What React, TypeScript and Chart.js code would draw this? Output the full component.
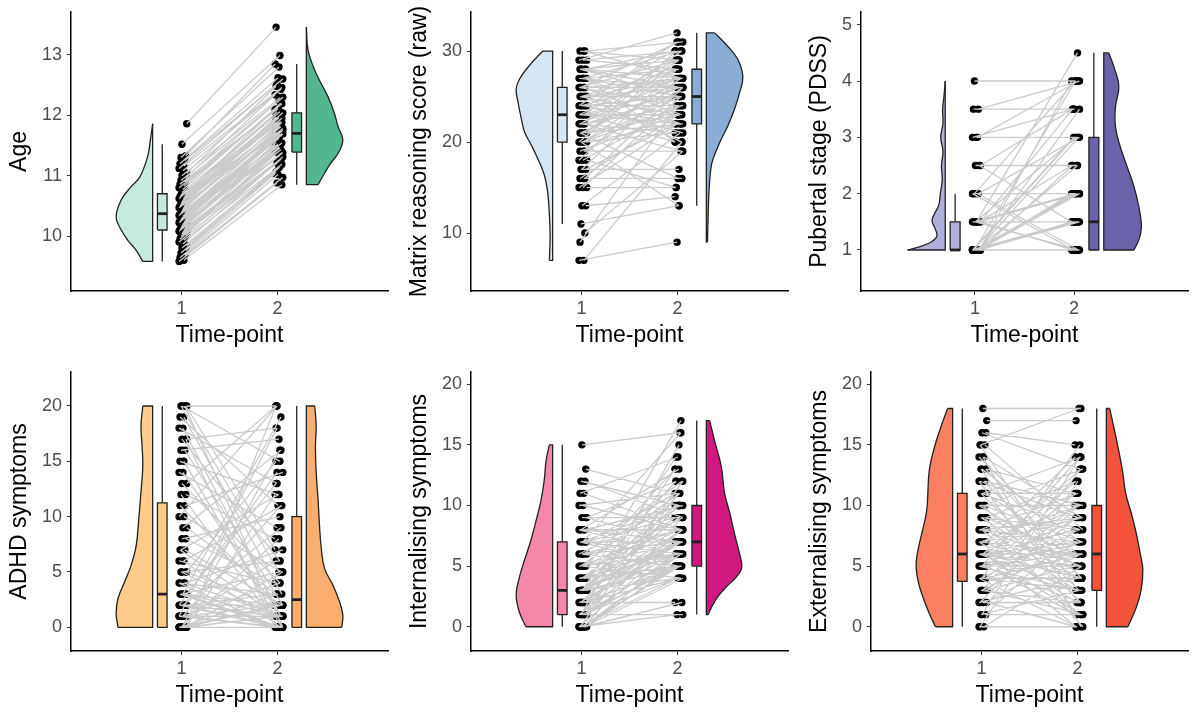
import React, { useEffect, useRef } from "react";
import { Chart, registerables } from "chart.js";

Chart.register(...registerables);

const FONT = '"Liberation Sans", Arial, Helvetica, sans-serif';
Chart.defaults.font.family = FONT;

// ---------- shared ----------
const TIME_POINTS = [1, 2];
const X_TITLE = "Time-point";

// ---------- Panel 1: Age ----------
const AGE_T1 = [9.58, 9.6, 9.64, 9.68, 9.72, 9.76, 9.8, 9.84, 9.87, 9.9, 9.93, 9.95, 9.98, 10.0, 10.02, 10.04, 10.06, 10.07, 10.08, 10.1, 10.11, 10.13, 10.14, 10.16, 10.17, 10.19, 10.2, 10.22, 10.23, 10.25, 10.26, 10.28, 10.29, 10.3, 10.32, 10.33, 10.34, 10.35, 10.36, 10.38, 10.39, 10.41, 10.42, 10.44, 10.45, 10.47, 10.49, 10.5, 10.52, 10.54, 10.56, 10.57, 10.59, 10.61, 10.62, 10.64, 10.65, 10.67, 10.68, 10.7, 10.72, 10.74, 10.77, 10.8, 10.83, 10.86, 10.89, 10.92, 10.96, 11.0, 11.04, 11.08, 11.12, 11.16, 11.2, 11.25, 11.3, 11.33, 11.52, 11.86];
const AGE_T2 = [10.88, 10.85, 11.02, 10.97, 11.13, 11.03, 11.15, 11.06, 11.27, 11.21, 11.19, 11.39, 11.31, 11.24, 11.39, 11.34, 11.48, 11.28, 11.43, 11.38, 11.5, 11.38, 11.47, 11.62, 11.46, 11.55, 11.43, 11.62, 11.54, 11.52, 11.69, 11.62, 11.51, 11.68, 11.62, 11.74, 11.6, 11.7, 11.65, 11.75, 11.63, 11.73, 11.87, 11.72, 11.81, 11.68, 11.88, 11.8, 11.78, 11.96, 11.89, 11.82, 11.97, 11.9, 12.06, 11.95, 11.88, 12.04, 11.96, 12.1, 12.06, 12.01, 12.2, 12.1, 12.19, 12.11, 12.3, 12.24, 12.34, 12.29, 12.48, 12.43, 12.52, 12.46, 12.62, 12.6, 12.8, 12.85, 12.99, 13.46];
const AGE_BOX_T1 = [9.58, 10.1, 10.37, 10.7, 11.52];
const AGE_BOX_T2 = [10.85, 11.39, 11.7, 12.04, 12.85];
const AGE_DENS_T1_Y = [9.58, 9.77, 9.93, 10.1, 10.32, 10.6, 10.81, 10.98, 11.31, 11.6, 11.86];
const AGE_DENS_T1_W = [0.27, 0.46, 0.68, 0.86, 1.0, 0.86, 0.6, 0.35, 0.14, 0.06, 0.0];
const AGE_DENS_T2_Y = [10.85, 11.04, 11.2, 11.37, 11.59, 11.81, 12.03, 12.3, 12.69, 13.07, 13.46];
const AGE_DENS_T2_W = [0.32, 0.5, 0.66, 0.87, 1.0, 0.87, 0.77, 0.6, 0.27, 0.05, 0.0];
const AGE_Y_TICKS = [10, 11, 12, 13];
const AGE_Y_RANGE = [9.09, 13.71];

// ---------- Panel 2: Matrix reasoning ----------
const MATRIX_T1 = [7, 7, 9, 10, 11, 13, 13, 15, 15, 15, 16, 16, 16, 17, 17, 17, 18, 18, 18, 19, 19, 19, 20, 20, 20, 20, 20, 20, 20, 21, 21, 21, 21, 21, 21, 22, 22, 22, 22, 22, 22, 23, 23, 23, 23, 23, 23, 23, 24, 24, 24, 24, 24, 24, 24, 25, 25, 25, 25, 25, 25, 25, 26, 26, 26, 26, 26, 26, 27, 27, 27, 27, 27, 27, 28, 28, 28, 28, 28, 29, 29, 29, 30, 30, 30];
const MATRIX_T2 = [9, 20, 24, 19, 13, 14, 21, 15, 25, 22, 16, 23, 26, 17, 22, 27, 15, 24, 28, 19, 23, 26, 13, 21, 25, 22, 27, 29, 24, 16, 22, 26, 28, 23, 30, 19, 21, 25, 27, 24, 29, 20, 22, 25, 26, 28, 30, 23, 21, 24, 25, 27, 29, 22, 31, 20, 23, 26, 28, 30, 25, 27, 22, 24, 26, 29, 27, 31, 20, 25, 28, 30, 26, 23, 25, 27, 29, 30, 26, 28, 30, 32, 27, 29, 31];
const MATRIX_BOX_T1 = [11, 20, 23, 26, 30];
const MATRIX_BOX_T2 = [13, 22, 25, 28, 32];
const MATRIX_DENS_T1_Y = [7, 9.5, 12, 14.6, 16.4, 18.2, 19.7, 21.1, 22.6, 24.4, 25.8, 26.9, 28.4, 30];
const MATRIX_DENS_T1_W = [0.09, 0.07, 0.09, 0.14, 0.23, 0.41, 0.59, 0.77, 0.86, 0.95, 1.0, 0.91, 0.64, 0.27];
const MATRIX_DENS_T2_Y = [9, 11.9, 14.4, 17, 18.1, 19.9, 21.8, 23.6, 25.4, 27.2, 29.1, 30.5, 32];
const MATRIX_DENS_T2_W = [0.03, 0.05, 0.07, 0.12, 0.18, 0.36, 0.59, 0.77, 0.91, 1.0, 0.86, 0.59, 0.23];
const MATRIX_Y_TICKS = [10, 20, 30];
const MATRIX_Y_RANGE = [3.63, 34.29];

// ---------- Panel 3: Pubertal stage ----------
const PDSS_T1 = [1, 1, 1, 1, 1, 1, 1, 1, 1, 1, 1, 1, 1, 1, 1, 1, 1, 1, 1, 1, 1, 1, 1, 1, 1, 1, 1, 1, 1, 1, 1, 1, 1, 1.5, 1.5, 1.5, 1.5, 1.5, 1.5, 1.5, 1.5, 1.5, 1.5, 1.5, 1.5, 2, 2, 2, 2, 2, 2.5, 2.5, 2.5, 3, 3, 3, 3.5, 3.5, 4];
const PDSS_T2 = [1, 1, 1, 1, 1, 1, 1, 1, 1, 1, 1, 1.5, 1.5, 1.5, 1.5, 1.5, 1.5, 1.5, 1.5, 1.5, 1.5, 2, 2, 2, 2, 2.5, 2.5, 3, 3, 3, 3.5, 4, 4, 1, 1, 1, 1.5, 1.5, 1.5, 2, 2, 2.5, 3, 3.5, 4.5, 1, 1, 2, 3, 4, 1.5, 2.5, 3.5, 3, 3.5, 4, 3.5, 4, 4];
const PDSS_BOX_T1 = [1, 1, 1, 1.5, 2];
const PDSS_BOX_T2 = [1, 1, 1.5, 3, 4.5];
const PDSS_DENS_T1_Y = [1.0, 1.06, 1.15, 1.25, 1.38, 1.52, 1.65, 1.8, 2.0, 2.25, 2.5, 2.75, 3.0, 3.25, 3.5, 3.75, 4.0];
const PDSS_DENS_T1_W = [1.0, 0.66, 0.35, 0.22, 0.27, 0.35, 0.28, 0.17, 0.13, 0.08, 0.1, 0.06, 0.12, 0.06, 0.07, 0.03, 0.0];
const PDSS_DENS_T2_Y = [1.0, 1.18, 1.41, 1.77, 2.13, 2.48, 2.83, 3.19, 3.54, 3.9, 4.25, 4.5];
const PDSS_DENS_T2_W = [0.8, 0.93, 1.0, 0.93, 0.8, 0.62, 0.44, 0.31, 0.31, 0.4, 0.27, 0.13];
const PDSS_Y_TICKS = [1, 2, 3, 4, 5];
const PDSS_Y_RANGE = [0.272, 5.225];

// ---------- Panel 4: ADHD ----------
const ADHD_T1 = [0, 0, 0, 0, 0, 0, 0, 0, 0, 0, 0, 0, 0, 0, 0, 0, 0, 1, 1, 1, 1, 1, 1, 1, 1, 1, 1, 1, 2, 2, 2, 2, 2, 2, 2, 2, 2, 3, 3, 3, 3, 3, 3, 3, 3, 4, 4, 4, 4, 5, 5, 5, 5, 6, 6, 6, 7, 7, 7, 8, 8, 9, 9, 10, 10, 11, 11, 12, 12, 13, 13, 14, 14, 15, 15, 16, 16, 17, 17, 17, 18, 18, 19, 19, 20, 20, 20, 20, 20];
const ADHD_T2 = [0, 0, 0, 0, 0, 2, 1, 1, 1, 2, 2, 3, 5, 8, 12, 16, 20, 0, 0, 0, 1, 1, 1, 2, 4, 6, 11, 18, 0, 0, 1, 1, 2, 2, 3, 9, 14, 0, 0, 1, 2, 2, 5, 13, 19, 0, 1, 3, 7, 1, 2, 6, 15, 0, 4, 11, 1, 2, 12, 4, 10, 3, 16, 20, 5, 2, 14, 0, 8, 4, 20, 1, 9, 0, 12, 2, 17, 0, 6, 18, 1, 13, 3, 11, 0, 5, 7, 15, 20];
const ADHD_BOX_T1 = [0, 0, 3, 11.25, 20];
const ADHD_BOX_T2 = [0, 0, 2.5, 10, 20];
const ADHD_DENS_T1_Y = [0, 0.4, 1.3, 2.6, 4.1, 5.6, 7.4, 9.8, 12.2, 14.6, 16.4, 18.2, 20];
const ADHD_DENS_T1_W = [0.95, 0.97, 1.0, 0.95, 0.77, 0.59, 0.45, 0.38, 0.32, 0.27, 0.29, 0.32, 0.27];
const ADHD_DENS_T2_Y = [0, 1.1, 2.3, 3.8, 5.3, 7.1, 9.2, 11.6, 14.0, 16.4, 18.2, 20];
const ADHD_DENS_T2_W = [0.97, 1.0, 0.91, 0.73, 0.5, 0.41, 0.36, 0.32, 0.27, 0.25, 0.27, 0.23];
const ADHD_Y_TICKS = [0, 5, 10, 15, 20];
const ADHD_Y_RANGE = [-2.14, 23.07];

// ---------- Panel 5: Internalising ----------
const INT_T1 = [0, 0, 0, 0, 0, 0, 0, 0, 0, 0, 0, 0, 1, 1, 1, 1, 1, 1, 1, 1, 1, 1, 1, 2, 2, 2, 2, 2, 2, 2, 2, 2, 2, 3, 3, 3, 3, 3, 3, 3, 3, 3, 3, 3, 3, 4, 4, 4, 4, 4, 4, 4, 4, 5, 5, 5, 5, 5, 5, 5, 6, 6, 6, 6, 6, 7, 7, 7, 7, 7, 7, 7, 8, 8, 8, 8, 8, 9, 9, 9, 10, 10, 11, 11, 12, 12, 13, 15];
const INT_T2 = [1, 2, 4, 4, 5, 5, 5, 6, 6, 7, 9, 11, 1, 4, 5, 5, 6, 6, 7, 8, 10, 12, 15, 2, 4, 5, 5, 6, 7, 7, 8, 10, 13, 4, 5, 5, 6, 7, 7, 8, 9, 10, 11, 14, 17, 5, 5, 6, 7, 8, 9, 10, 12, 4, 6, 7, 8, 9, 11, 13, 5, 7, 8, 10, 12, 5, 6, 7, 9, 10, 11, 16, 6, 7, 8, 10, 13, 7, 9, 12, 8, 11, 8, 14, 9, 10, 11, 16];
const INT_BOX_T1 = [0, 1, 3, 7, 15];
const INT_BOX_T2 = [1, 5, 7, 10, 17];
const INT_DENS_T1_Y = [0, 0.8, 1.6, 2.7, 4.1, 5.5, 7.2, 8.8, 10.4, 12.1, 13.7, 15];
const INT_DENS_T1_W = [0.73, 0.86, 0.95, 1.0, 0.91, 0.77, 0.59, 0.45, 0.32, 0.23, 0.18, 0.09];
const INT_DENS_T2_Y = [1.0, 1.6, 2.5, 3.3, 4.1, 4.9, 6.0, 7.7, 9.4, 11.0, 13.2, 15.3, 17];
const INT_DENS_T2_W = [0.05, 0.14, 0.32, 0.55, 0.82, 0.97, 0.91, 0.77, 0.64, 0.5, 0.41, 0.23, 0.09];
const INT_Y_TICKS = [0, 5, 10, 15, 20];
const INT_Y_RANGE = [-2.0, 21.01];

// ---------- Panel 6: Externalising ----------
const EXT_T1 = [0, 0, 0, 1, 1, 1, 1, 2, 2, 2, 2, 2, 3, 3, 3, 3, 3, 3, 4, 4, 4, 4, 4, 4, 4, 5, 5, 5, 5, 5, 5, 5, 5, 5, 6, 6, 6, 6, 6, 6, 6, 6, 6, 6, 6, 7, 7, 7, 7, 7, 7, 8, 8, 8, 8, 8, 8, 9, 9, 9, 9, 9, 10, 10, 10, 10, 10, 11, 11, 11, 11, 11, 12, 12, 12, 12, 13, 13, 13, 13, 14, 14, 14, 15, 15, 15, 16, 16, 17, 18];
const EXT_T2 = [0, 5, 12, 1, 3, 8, 14, 0, 2, 4, 6, 10, 1, 2, 5, 7, 9, 13, 0, 3, 4, 6, 8, 10, 15, 1, 2, 3, 5, 6, 7, 9, 11, 14, 0, 1, 3, 4, 5, 6, 7, 8, 10, 12, 13, 2, 4, 6, 9, 10, 14, 1, 3, 5, 7, 9, 11, 0, 4, 6, 8, 12, 2, 5, 7, 10, 13, 3, 6, 8, 11, 14, 1, 4, 9, 10, 2, 5, 7, 11, 0, 6, 9, 3, 8, 18, 15, 13, 17, 18];
const EXT_BOX_T1 = [0, 3.75, 6, 11, 18];
const EXT_BOX_T2 = [0, 3, 6, 10, 18];
const EXT_DENS_T1_Y = [0, 1.1, 2.5, 3.8, 5.2, 6.6, 8.0, 9.6, 11, 12.9, 14.8, 16.5, 18];
const EXT_DENS_T1_W = [0.47, 0.64, 0.82, 0.95, 1.0, 0.93, 0.82, 0.71, 0.68, 0.64, 0.5, 0.32, 0.14];
const EXT_DENS_T2_Y = [0, 1.6, 3.0, 4.7, 6.0, 7.7, 9.4, 11, 12.9, 14.8, 16.8, 18];
const EXT_DENS_T2_W = [0.59, 0.82, 0.95, 1.0, 0.93, 0.82, 0.68, 0.53, 0.44, 0.32, 0.18, 0.09];
const EXT_Y_TICKS = [0, 5, 10, 15, 20];
const EXT_Y_RANGE = [-2.0, 21.01];

// ---------- styling / geometry ----------
const X_RANGE = [-0.15, 3.15];
const V_EDGE = [0.7, 2.3];
const V_MAX = 0.38;
const BOX_CENTER = [0.8, 2.2];
const BOX_HALF = 0.05;
const OUTLINE = "#222222";
const LINE_GREY = "#cbcbcb";
const PANEL_W = 400;
const PANEL_H = 360;
const TICK_SIZE = 18;
const TITLE_SIZE = 23;

type Panel = {
  yTitle: string;
  t1: number[];
  t2: number[];
  box1: number[];
  box2: number[];
  d1y: number[];
  d1w: number[];
  d2y: number[];
  d2w: number[];
  colors: string[];
  yTicks: number[];
  yRange: number[];
  axisLeft: number;
};

const PANELS: Panel[] = [
  { yTitle: "Age", t1: AGE_T1, t2: AGE_T2, box1: AGE_BOX_T1, box2: AGE_BOX_T2, d1y: AGE_DENS_T1_Y, d1w: AGE_DENS_T1_W, d2y: AGE_DENS_T2_Y, d2w: AGE_DENS_T2_W, colors: ["#c7e9e0", "#52b78e"], yTicks: AGE_Y_TICKS, yRange: AGE_Y_RANGE, axisLeft: 71 },
  { yTitle: "Matrix reasoning score (raw)", t1: MATRIX_T1, t2: MATRIX_T2, box1: MATRIX_BOX_T1, box2: MATRIX_BOX_T2, d1y: MATRIX_DENS_T1_Y, d1w: MATRIX_DENS_T1_W, d2y: MATRIX_DENS_T2_Y, d2w: MATRIX_DENS_T2_W, colors: ["#d6e5f2", "#8aadd4"], yTicks: MATRIX_Y_TICKS, yRange: MATRIX_Y_RANGE, axisLeft: 71 },
  { yTitle: "Pubertal stage (PDSS)", t1: PDSS_T1, t2: PDSS_T2, box1: PDSS_BOX_T1, box2: PDSS_BOX_T2, d1y: PDSS_DENS_T1_Y, d1w: PDSS_DENS_T1_W, d2y: PDSS_DENS_T2_Y, d2w: PDSS_DENS_T2_W, colors: ["#b0afda", "#6a63ab"], yTicks: PDSS_Y_TICKS, yRange: PDSS_Y_RANGE, axisLeft: 61 },
  { yTitle: "ADHD symptoms", t1: ADHD_T1, t2: ADHD_T2, box1: ADHD_BOX_T1, box2: ADHD_BOX_T2, d1y: ADHD_DENS_T1_Y, d1w: ADHD_DENS_T1_W, d2y: ADHD_DENS_T2_Y, d2w: ADHD_DENS_T2_W, colors: ["#fdcb8a", "#fcae6e"], yTicks: ADHD_Y_TICKS, yRange: ADHD_Y_RANGE, axisLeft: 71 },
  { yTitle: "Internalising symptoms", t1: INT_T1, t2: INT_T2, box1: INT_BOX_T1, box2: INT_BOX_T2, d1y: INT_DENS_T1_Y, d1w: INT_DENS_T1_W, d2y: INT_DENS_T2_Y, d2w: INT_DENS_T2_W, colors: ["#f587a8", "#d0187f"], yTicks: INT_Y_TICKS, yRange: INT_Y_RANGE, axisLeft: 71 },
  { yTitle: "Externalising symptoms", t1: EXT_T1, t2: EXT_T2, box1: EXT_BOX_T1, box2: EXT_BOX_T2, d1y: EXT_DENS_T1_Y, d1w: EXT_DENS_T1_W, d2y: EXT_DENS_T2_Y, d2w: EXT_DENS_T2_W, colors: ["#fb8062", "#f2533a"], yTicks: EXT_Y_TICKS, yRange: EXT_Y_RANGE, axisLeft: 71 },
];

function jitter(i: number) {
  return (((i * 5) % 9) / 8) * 0.08 - 0.025;
}

function violinDatasets(ys: number[], ws: number[], edge: number, dir: number, color: string, order: number) {
  const curve = ys.map((y, k) => ({ x: edge + dir * ws[k] * V_MAX, y }));
  const n = ys.length - 1;
  const flat = [
    { x: edge + dir * ws[0] * V_MAX, y: ys[0] },
    { x: edge, y: ys[0] },
    { x: edge, y: ys[n] },
    { x: edge + dir * ws[n] * V_MAX, y: ys[n] },
  ];
  return [
    {
      indexAxis: "y",
      data: curve,
      borderColor: OUTLINE,
      borderWidth: 1.3,
      backgroundColor: color,
      fill: { value: edge },
      tension: 0.4,
      pointRadius: 0,
      order: order + 0.1,
    },
    {
      data: flat,
      borderColor: OUTLINE,
      borderWidth: 1.3,
      fill: false,
      tension: 0,
      pointRadius: 0,
      order,
    },
  ];
}

function boxDatasets(stats: number[], center: number, color: string) {
  const [mn, q1, med, q3, mx] = stats;
  const l = center - BOX_HALF;
  const r = center + BOX_HALF;
  return [
    {
      data: [
        { x: center, y: mn },
        { x: center, y: q1 },
        { x: null, y: null },
        { x: center, y: q3 },
        { x: center, y: mx },
      ],
      borderColor: OUTLINE,
      borderWidth: 1.3,
      pointRadius: 0,
      fill: false,
      spanGaps: false,
      order: 5,
    },
    {
      data: [
        { x: l, y: q1 },
        { x: r, y: q1 },
        { x: r, y: q3 },
        { x: l, y: q3 },
        { x: l, y: q1 },
      ],
      borderColor: OUTLINE,
      borderWidth: 1.3,
      backgroundColor: color,
      fill: "shape",
      tension: 0,
      pointRadius: 0,
      order: 4.5,
    },
    {
      data: [
        { x: l, y: med },
        { x: r, y: med },
      ],
      borderColor: OUTLINE,
      borderWidth: 2.8,
      pointRadius: 0,
      fill: false,
      order: 4.2,
    },
  ];
}

function buildConfig(p: Panel): any {
  const datasets: any[] = [];
  datasets.push(...violinDatasets(p.d1y, p.d1w, V_EDGE[0], -1, p.colors[0], 6));
  datasets.push(...violinDatasets(p.d2y, p.d2w, V_EDGE[1], 1, p.colors[1], 6));
  datasets.push(...boxDatasets(p.box1, BOX_CENTER[0], p.colors[0]));
  datasets.push(...boxDatasets(p.box2, BOX_CENTER[1], p.colors[1]));

  const pts: any[] = [];
  const pairs: any[] = [];
  p.t1.forEach((a, i) => {
    const b = p.t2[i];
    const x1 = TIME_POINTS[0] + jitter(i);
    const x2 = TIME_POINTS[1] + jitter(i + 4);
    pts.push({ x: x1, y: a }, { x: x2, y: b });
    pairs.push({ x: x1, y: a }, { x: x2, y: b }, { x: null, y: null });
  });
  datasets.push({
    data: pts,
    showLine: false,
    pointRadius: 3.7,
    pointBackgroundColor: "#000000",
    pointBorderWidth: 0,
    order: 2,
  });
  datasets.push({
    data: pairs,
    borderColor: LINE_GREY,
    borderWidth: 1.3,
    pointRadius: 0,
    fill: false,
    spanGaps: false,
    order: 1,
  });

  return {
    type: "line",
    data: { datasets },
    options: {
      animation: false,
      responsive: false,
      maintainAspectRatio: false,
      devicePixelRatio: 1,
      events: [],
      layout: { padding: { left: 0, top: 12, right: PANEL_W - 388, bottom: 0 } },
      plugins: { legend: { display: false }, tooltip: { enabled: false } },
      scales: {
        x: {
          type: "linear",
          min: X_RANGE[0],
          max: X_RANGE[1],
          afterBuildTicks: (s: any) => {
            s.ticks = TIME_POINTS.map((v) => ({ value: v }));
          },
          afterFit: (s: any) => {
            s.height = PANEL_H - 291;
            s.paddingLeft = 0;
            s.paddingRight = 0;
          },
          grid: { display: true, drawOnChartArea: false, drawTicks: true, tickLength: 4, color: "#333333", lineWidth: 1 },
          border: { display: true, color: "#000000", width: 1.5 },
          ticks: { color: "#4d4d4d", font: { family: FONT, size: TICK_SIZE }, padding: 3, autoSkip: false, maxRotation: 0 },
          title: { display: true, text: X_TITLE, color: "#000000", font: { family: FONT, size: TITLE_SIZE }, padding: { top: 0, bottom: 11 } },
        },
        y: {
          type: "linear",
          min: p.yRange[0],
          max: p.yRange[1],
          afterBuildTicks: (s: any) => {
            s.ticks = p.yTicks.map((v) => ({ value: v }));
          },
          afterFit: (s: any) => {
            s.width = p.axisLeft;
            s.paddingTop = 0;
            s.paddingBottom = 0;
          },
          grid: { display: true, drawOnChartArea: false, drawTicks: true, tickLength: 4, color: "#333333", lineWidth: 1 },
          border: { display: true, color: "#000000", width: 1.5 },
          ticks: { color: "#4d4d4d", font: { family: FONT, size: TICK_SIZE }, padding: 5 },
          title: { display: true, text: p.yTitle, color: "#000000", font: { family: FONT, size: TITLE_SIZE }, padding: { top: 6, bottom: 0 } },
        },
      },
    },
  };
}

function PanelChart({ panel, left, top }: { panel: Panel; left: number; top: number }) {
  const ref = useRef<HTMLCanvasElement>(null);
  useEffect(() => {
    const canvas = ref.current;
    if (!canvas) return;
    const chart = new Chart(canvas, buildConfig(panel));
    return () => chart.destroy();
  }, [panel]);
  return (
    <div style={{ position: "absolute", left, top, width: PANEL_W, height: PANEL_H }}>
      <canvas ref={ref} width={PANEL_W} height={PANEL_H} style={{ width: PANEL_W, height: PANEL_H, display: "block" }} />
    </div>
  );
}

export default function App() {
  return (
    <div style={{ position: "absolute", left: 0, top: 0, width: 1200, height: 720, background: "#ffffff" }}>
      {PANELS.map((p, i) => (
        <PanelChart key={i} panel={p} left={(i % 3) * PANEL_W} top={Math.floor(i / 3) * PANEL_H} />
      ))}
    </div>
  );
}
